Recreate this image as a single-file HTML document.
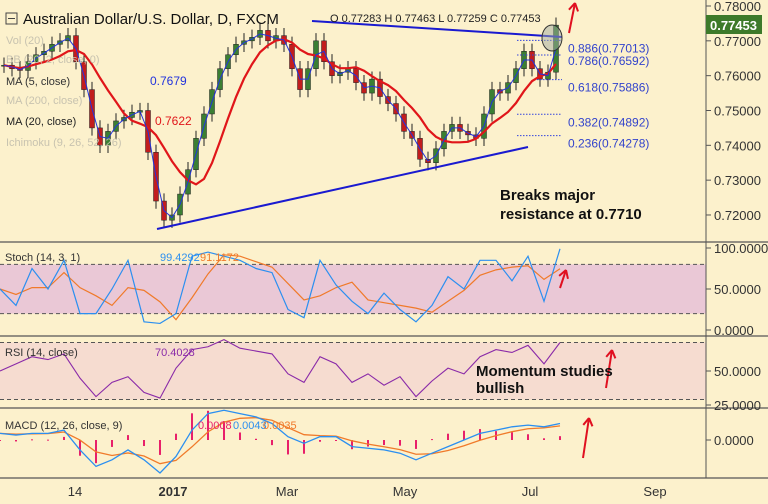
<!DOCTYPE html>
<html><head><meta charset="utf-8"><style>
body{margin:0;background:#fcf1cc;font-family:"Liberation Sans",sans-serif}
svg{display:block}
text{font-family:"Liberation Sans",sans-serif}
</style></head><body>
<svg id="c" width="768" height="504" viewBox="0 0 768 504">
<rect width="768" height="504" fill="#fcf1cc"/>
<g id="panels"></g>
</svg>
<script>
const closes=[0.7630,0.7620,0.7615,0.7640,0.7660,0.7670,0.7690,0.7700,0.7715,0.7640,0.7560,0.7450,0.7400,0.7440,0.7470,0.7480,0.7495,0.7500,0.7380,0.7240,0.7185,0.7200,0.7260,0.7330,0.7420,0.7490,0.7560,0.7620,0.7660,0.7690,0.7700,0.7710,0.7730,0.7700,0.7715,0.7690,0.7620,0.7560,0.7620,0.7700,0.7640,0.7600,0.7610,0.7620,0.7580,0.7550,0.7590,0.7540,0.7520,0.7490,0.7440,0.7420,0.7360,0.7350,0.7390,0.7440,0.7460,0.7440,0.7430,0.7420,0.7490,0.7560,0.7550,0.7580,0.7620,0.7670,0.7620,0.7590,0.7610,0.7745];
const stochK=[50,30,75,50,85,20,20,50,85,10,8,20,90,95,90,85,75,70,25,15,85,55,35,20,45,25,10,30,65,50,85,85,60,90,35,99];
const rsi=[50,55,60,58,62,45,32,42,46,35,31,52,65,67,72,66,64,62,48,42,60,55,42,48,40,46,32,43,52,48,60,65,63,68,55,70];
const macd=[2,1.5,2,2,3,-3,-8,-6,-3,-6,-10,-5,3,8,9,8,7,5,1,-1,1,1,-2,-2.5,-3,-4,-6,-4,-2,0,2,3,4,4.5,4,5];
const priceTicks=[0.78,0.77,0.76,0.75,0.74,0.73,0.72];
const timeLabels=["14","2017","Mar","May","Jul","Sep"];
const timeX=[75,173,287,405,530,655];
const fibLevels=[0.886,0.786,0.618,0.382,0.236];
const fibPrices=[0.77013,0.76592,0.75886,0.74892,0.74278];

const NS="http://www.w3.org/2000/svg";
const svg=document.getElementById('c');
function el(t,a,p){const e=document.createElementNS(NS,t);for(const k in a)e.setAttribute(k,a[k]);(p||svg).appendChild(e);return e;}
function txt(x,y,s,a){const e=el('text',Object.assign({x:x,y:y},a));e.textContent=s;return e;}
const yP=p=>6+(0.78-p)*3483;
const xC=i=>4+i*8;
const xI=i=>i*16;
const yS=v=>330-v*0.82;
const yR=v=>371-(v-50)*1.425;
const yM=v=>440-v*3.3;

// panel fills
let r=el('rect',{x:0,y:yS(80),width:706,height:yS(20)-yS(80),fill:'#eac8d6'});

r=el('rect',{x:0,y:yR(70),width:706,height:yR(30)-yR(70),fill:'#f6dcd0'});

[[yS(80)],[yS(20)],[yR(70)],[yR(30)]].forEach(v=>el('line',{x1:0,x2:706,y1:v[0],y2:v[0],stroke:'#555',"stroke-dasharray":'4,3','stroke-width':1}));
// separators
[242,336,408,478].forEach(y=>el('line',{x1:0,x2:768,y1:y,y2:y,stroke:'#555','stroke-width':1.3}));
el('line',{x1:706,x2:706,y1:0,y2:478,stroke:'#555','stroke-width':1});

// candles
const cg=el('g',{});
closes.forEach((c,i)=>{const o=i?closes[i-1]:c;const up=c>=o;const col=up?'#3b7f33':'#c21d1d';
 const x=xC(i);el('line',{x1:x,x2:x,y1:yP(Math.max(o,c)+0.0022),y2:yP(Math.min(o,c)-0.0022),stroke:'#222','stroke-width':1},cg);
 const b=el('rect',{x:x-2.5,y:yP(Math.max(o,c)),width:5,height:Math.max(1,Math.abs(yP(o)-yP(c))),fill:col,stroke:'#222','stroke-width':0.5},cg);
 });
function ma(a,n){return a.map((v,i)=>{const s=a.slice(Math.max(0,i-n+1),i+1);return s.reduce((x,y)=>x+y,0)/s.length;});}
function poly(vals,xf,yf,col,w,name){const p=el('polyline',{points:vals.map((v,i)=>xf(i)+','+yf(v)).join(' '),fill:'none',stroke:col,'stroke-width':w});return p;}
poly(ma(closes,7),xC,yP,'#e0161a',2.2,'ma20-line');
poly(ma(closes,2),xC,yP,'#2233dd',1,'ma5-line');

// trendlines
let t=el('line',{x1:312,y1:21,x2:562,y2:37,stroke:'#1a1ad0','stroke-width':2});
t=el('line',{x1:157,y1:229,x2:528,y2:147,stroke:'#1a1ad0','stroke-width':2});
// fib
fibLevels.forEach((l,i)=>{const y=yP(fibPrices[i]);const x1=i==2?537:517;
 el('line',{x1:x1,x2:562,y1:y,y2:y,stroke:'#3344dd','stroke-dasharray':'1.5,1.5','stroke-width':1});
 const tt=txt(568,y+(i==0?12:i==1?10:i==2?12:i==3?12:12),l.toFixed(3)+'('+fibPrices[i].toFixed(5)+')',{'font-size':12,fill:'#3344cc'});
 });
let e=el('ellipse',{cx:552,cy:38,rx:10,ry:13,fill:'rgba(160,170,160,0.5)',stroke:'#333','stroke-width':1});

// price axis
priceTicks.forEach(p=>{const y=yP(p);el('line',{x1:706,x2:711,y1:y,y2:y,stroke:'#555'});
 const tt=txt(714,y+5,p.toFixed(5),{'font-size':13,fill:'#333'});});
r=el('rect',{x:706,y:15,width:56,height:19,fill:'#3d7a2a'});
txt(710,30,'0.77453',{'font-size':13,fill:'#fff','font-weight':'bold'});
[['100.0000',yS(100)],['50.0000',yS(50)],['0.0000',yS(0)],['50.0000',yR(50)],['25.0000',405],['0.0000',yM(0)]].forEach(a=>{el('line',{x1:706,x2:711,y1:a[1],y2:a[1],stroke:'#555'});const tt=txt(714,a[1]+5,a[0],{'font-size':13,fill:'#333'});});

// stoch
const stochD=stochK.map((v,i)=>(stochK[Math.max(0,i-2)]+stochK[Math.max(0,i-1)]+v)/3);
poly(stochD,xI,yS,'#f07a2a',1.2,'stoch-d-line');
poly(stochK,xI,yS,'#2b8ff0',1.2,'stoch-k-line');
// rsi
poly(rsi,xI,yR,'#8a2aa8',1.1,'rsi-line');
// macd
let sig=[];macd.forEach((v,i)=>sig.push(i?sig[i-1]+(v-sig[i-1])*0.45:v));
macd.forEach((v,i)=>{const h=(v-sig[i])*1.6;const b=el('rect',{x:xI(i)-1,y:Math.min(yM(0),yM(h)),width:2,height:Math.max(1,Math.abs(yM(h)-yM(0))),fill:'#e8206a'});});
poly(sig,xI,yM,'#f07a2a',1.3,'macd-signal-line');
poly(macd,xI,yM,'#2b8ff0',1.3,'macd-line');

// time axis
timeLabels.forEach((s,i)=>{const tt=txt(timeX[i],496,s,{'font-size':13,fill:'#333','text-anchor':'middle','font-weight':s=='2017'?'bold':'normal'});});

// arrows
function arrow(x1,y1,x2,y2,name){const g=el('g',{stroke:'#e01020','stroke-width':2,fill:'none'});
 el('line',{x1:x1,y1:y1,x2:x2,y2:y2},g);const a=Math.atan2(y2-y1,x2-x1);
 [a+2.6,a-2.6].forEach(b=>el('line',{x1:x2,y1:y2,x2:x2+9*Math.cos(b),y2:y2+9*Math.sin(b)},g));}
arrow(569,33,575,3,'price-up-arrow');arrow(560,288,566,270,'stoch-up-arrow');arrow(606,388,612,350,'rsi-up-arrow');arrow(583,458,589,418,'macd-up-arrow');

// legend texts
function lab(x,y,s,sz,col,name,extra){const tt=txt(x,y,s,Object.assign({'font-size':sz,fill:col},extra||{}));return tt;}
r=el('rect',{x:6,y:13,width:11,height:11,fill:'none',stroke:'#444'});
el('line',{x1:8,x2:15,y1:18.5,y2:18.5,stroke:'#444'});
lab(23,24,'Australian Dollar/U.S. Dollar, D, FXCM',15,'#111','chart-title');
lab(330,22,'O 0.77283 H 0.77463 L 0.77259 C 0.77453',11,'#222','ohlc-values');
lab(6,44,'Vol (20)',11,'#c8c3b0','vol-legend');
lab(6,63,'BB (20, 2, close, 0)',11,'#c8c3b0','bb-legend');
lab(6,85,'MA (5, close)',11,'#333','ma5-legend');lab(150,85,'0.7679',12,'#2233dd','ma5-value');
lab(6,104,'MA (200, close)',11,'#c8c3b0','ma200-legend');
lab(6,125,'MA (20, close)',11,'#222','ma20-legend');lab(155,125,'0.7622',12,'#e0161a','ma20-value');
lab(6,146,'Ichimoku (9, 26, 52, 26)',11,'#c8c3b0','ichimoku-legend');
lab(5,261,'Stoch (14, 3, 1)',11,'#333','stoch-legend');lab(160,261,'99.4292',11,'#2b8ff0','stoch-k-value');lab(200,261,'91.1172',11,'#f07a2a','stoch-d-value');
lab(5,356,'RSI (14, close)',11,'#333','rsi-legend');lab(155,356,'70.4028',11,'#8a2aa8','rsi-value');
lab(5,429,'MACD (12, 26, close, 9)',11,'#333','macd-legend');lab(198,429,'0.0008',11,'#e8206a','macd-hist-value');lab(233,429,'0.0043',11,'#2b8ff0','macd-value');lab(263,429,'0.0035',11,'#f07a2a','macd-signal-value');
lab(500,200,'Breaks major',15,'#111','annotation-breaks',{'font-weight':'bold'});
lab(500,219,'resistance at 0.7710',15,'#111','annotation-resistance',{'font-weight':'bold'});
lab(476,376,'Momentum studies',15,'#111','annotation-momentum',{'font-weight':'bold'});
lab(476,393,'bullish',15,'#111','annotation-bullish',{'font-weight':'bold'});
</script>
</body></html>
